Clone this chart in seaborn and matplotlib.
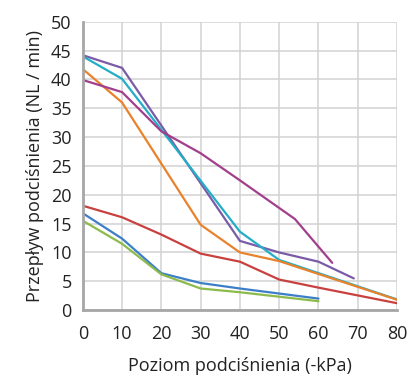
import pandas as pd
import numpy as np
import seaborn as sns
import matplotlib.pyplot as plt

# -------------------------------
# Data
# -------------------------------
purple_x = [0, 10, 40, 50, 60, 69]
purple_y = [44.2, 42.0, 12.0, 10.0, 8.4, 5.5]

cyan_x = [0, 10, 40, 50, 80]
cyan_y = [44.0, 40.1, 13.6, 8.7, 1.85]

orange_x = [0, 10, 30, 40, 50, 80]
orange_y = [41.8, 36.0, 14.8, 10.0, 8.5, 1.8]

magenta_x = [0, 10, 20, 30, 40, 54, 63.5]
magenta_y = [39.9, 37.8, 31.0, 27.2, 22.5, 15.8, 8.2]

red_x = [0, 10, 20, 30, 40, 50, 60, 80]
red_y = [18.1, 16.1, 13.1, 9.8, 8.4, 5.3, 3.9, 1.2]

blue_x = [0, 10, 20, 30, 40, 60]
blue_y = [16.8, 12.4, 6.4, 4.7, 3.75, 2.0]

green_x = [0, 10, 20, 30, 40, 60]
green_y = [15.5, 11.5, 6.2, 3.75, 3.1, 1.55]

series = {
    "purple": (purple_x, purple_y),
    "cyan": (cyan_x, cyan_y),
    "orange": (orange_x, orange_y),
    "magenta": (magenta_x, magenta_y),
    "red": (red_x, red_y),
    "blue": (blue_x, blue_y),
    "green": (green_x, green_y),
}
colors = {
    "purple": "#7a5ba8",
    "cyan": "#22aec6",
    "orange": "#e8822c",
    "magenta": "#a23f8c",
    "red": "#c8413f",
    "blue": "#3c7fc8",
    "green": "#8dbb4b",
}

frames = []
for name, (xs, ys) in series.items():
    frames.append(pd.DataFrame({"kpa": xs, "flow": ys, "series": name}))
df = pd.concat(frames, ignore_index=True)

# -------------------------------
# Plot
# -------------------------------
sns.set_style("white")
plt.rcParams["font.family"] = ["Open Sans", "DejaVu Sans"]

fig = plt.figure(figsize=(4.14, 3.75), dpi=100)
ax = fig.add_axes([0.2, 0.173, 0.759, 0.769])

sns.lineplot(data=df, x="kpa", y="flow", hue="series", palette=colors,
             sort=False, estimator=None, linewidth=1.6, legend=False, ax=ax)

ax.set_xlim(0, 80)
ax.set_ylim(0, 50)
ax.set_xticks(np.arange(0, 81, 10))
ax.set_yticks(np.arange(0, 51, 5))
ax.grid(True, color="#d2d2d2", linewidth=1.1)
ax.set_axisbelow(True)

for side in ["top", "right"]:
    ax.spines[side].set_visible(False)
for side in ["left", "bottom"]:
    ax.spines[side].set_color("#a6a6a6")
    ax.spines[side].set_linewidth(2)

ax.tick_params(axis="both", length=0, labelsize=13, colors="#222222")
ax.tick_params(axis="x", pad=11)
ax.tick_params(axis="y", pad=8)

ax.set_xlabel("Poziom podciśnienia (-kPa)", fontsize=13, color="#222222", labelpad=10)
ax.set_ylabel("Przepływ podciśnienia (NL / min)", fontsize=13, color="#222222", labelpad=5)

fig.savefig("out.png", dpi=100)
